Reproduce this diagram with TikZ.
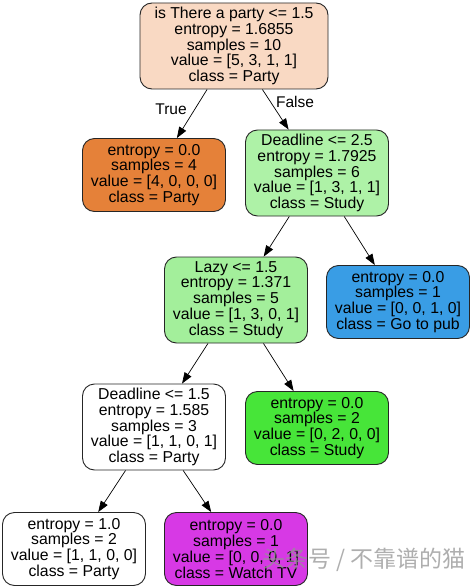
\documentclass[tikz,border=0pt]{standalone}
\usepackage{fontspec}
\setmainfont{Liberation Sans}
\newfontfamily\cjk{Noto Sans CJK SC}
\usetikzlibrary{arrows.meta}
\definecolor{cpeach}{HTML}{F9D9C3}
\definecolor{corange}{HTML}{E58139}
\definecolor{clgreen}{HTML}{AEF2A7}
\definecolor{cmgreen}{HTML}{A3EF9B}
\definecolor{cgreen}{HTML}{47E539}
\definecolor{cblue}{HTML}{399DE5}
\definecolor{cpurple}{HTML}{D739E5}
\tikzset{
  tree/.style={draw=black!85, line width=0.9pt, rounded corners=12pt, align=center,
    font=\fontsize{15.8}{15.8}\selectfont, inner sep=0pt, minimum width=143pt},
  five/.style={tree, minimum height=86pt},
  four/.style={tree, minimum height=73pt},
  arr/.style={draw=black, line width=0.7pt, -{Triangle[length=11pt,width=8pt]}},
  lbl/.style={font=\fontsize{15.5}{16}\selectfont, inner sep=0pt}
}
\begin{document}
\begin{tikzpicture}[x=1pt,y=-1pt]
\useasboundingbox (0,0) rectangle (474,588);
\fill[white] (0,0) rectangle (474,588);
\node[five, fill=cpeach, minimum width=188pt] (root) at (234,46) {is There a party <= 1.5\\entropy = 1.6855\\samples = 10\\value = [5, 3, 1, 1]\\class = Party};
\node[four, fill=corange] (p1) at (154,175) {entropy = 0.0\\samples = 4\\value = [4, 0, 0, 0]\\class = Party};
\node[five, fill=clgreen] (d25) at (317,173) {Deadline <= 2.5\\entropy = 1.7925\\samples = 6\\value = [1, 3, 1, 1]\\class = Study};
\node[five, fill=cmgreen] (lazy) at (236,300) {Lazy <= 1.5\\entropy = 1.371\\samples = 5\\value = [1, 3, 0, 1]\\class = Study};
\node[four, fill=cblue] (pub) at (398,302) {entropy = 0.0\\samples = 1\\value = [0, 0, 1, 0]\\class = Go to pub};
\node[five, fill=white] (d15) at (154,427) {Deadline <= 1.5\\entropy = 1.585\\samples = 3\\value = [1, 1, 0, 1]\\class = Party};
\node[four, fill=cgreen] (study) at (317,428) {entropy = 0.0\\samples = 2\\value = [0, 2, 0, 0]\\class = Study};
\node[four, fill=white] (p2) at (74,549) {entropy = 1.0\\samples = 2\\value = [1, 1, 0, 0]\\class = Party};
\node[four, fill=cpurple] (watch) at (236,549) {entropy = 0.0\\samples = 1\\value = [0, 0, 0, 1]\\class = Watch TV};
\draw[arr] (root) -- (p1);
\draw[arr] (root) -- (d25);
\draw[arr] (d25) -- (lazy);
\draw[arr] (d25) -- (pub);
\draw[arr] (lazy) -- (d15);
\draw[arr] (lazy) -- (study);
\draw[arr] (d15) -- (p2);
\draw[arr] (d15) -- (watch);
\node[lbl] (ltrue) at (171,109) {True};
\node[lbl] (lfalse) at (295,102) {False};
\node[font=\cjk\fontsize{23}{26}\selectfont, text=black!42, opacity=0.75, anchor=west, inner sep=0pt] (wm) at (262,560) {头条号 / 不靠谱的猫};
\end{tikzpicture}
\end{document}
